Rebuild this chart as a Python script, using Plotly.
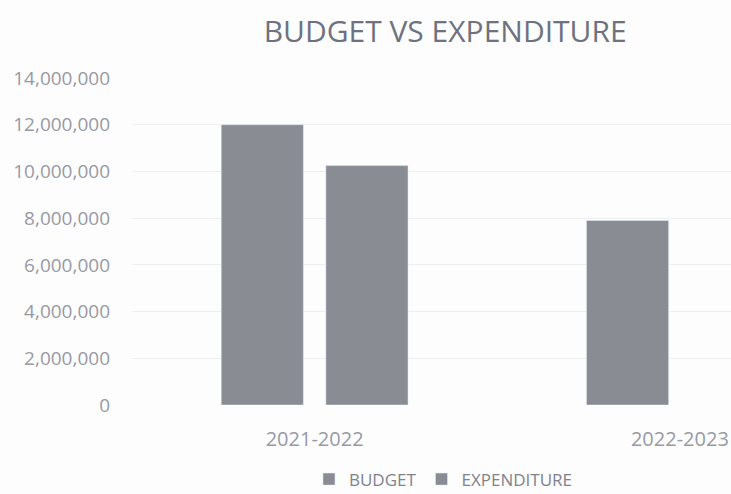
import plotly.graph_objects as go

categories = ["2021-2022", "2022-2023"]
budget = [12000000, 7900000]
expenditure = [10250000, None]
y_ticks = [0, 2000000, 4000000, 6000000, 8000000, 10000000, 12000000, 14000000]

bar_color = "#8a8c94"
text_color = "#979aa4"

fig = go.Figure()
fig.add_trace(go.Bar(name="BUDGET", x=categories, y=budget, marker_color=bar_color))
fig.add_trace(go.Bar(name="EXPENDITURE", x=categories, y=expenditure, marker_color=bar_color))

fig.update_layout(
    width=731, height=494,
    margin=dict(l=132, r=0, t=78, b=89, autoexpand=False),
    paper_bgcolor="#fdfdfd", plot_bgcolor="#fdfdfd",
    barmode="group", bargap=0.427, bargroupgap=0.215,
    title=dict(text="BUDGET VS EXPENDITURE", x=0.609, xanchor="center", y=0.937, yanchor="middle",
               font=dict(family="Open Sans", size=30, color="#6e7280")),
    font=dict(family="Open Sans", color=text_color),
    legend=dict(orientation="h", x=0.52, xanchor="center", y=-0.228, yanchor="middle",
                font=dict(size=17, color="#80838d"), itemwidth=30, traceorder="normal"),
    showlegend=True,
)
fig.update_xaxes(type="category", range=[-0.5, 1.14], showgrid=False, showline=False, automargin=False,
                 tickfont=dict(size=20, color=text_color), ticks="", ticklabelstandoff=20)
fig.update_yaxes(range=[0, 14000000], tickvals=y_ticks, tickformat=",d", automargin=False,
                 showgrid=True, gridcolor="#efefef", gridwidth=1, zeroline=False, showline=False,
                 tickfont=dict(size=19, color=text_color), ticklabelstandoff=21)

fig.write_html("out.html")
